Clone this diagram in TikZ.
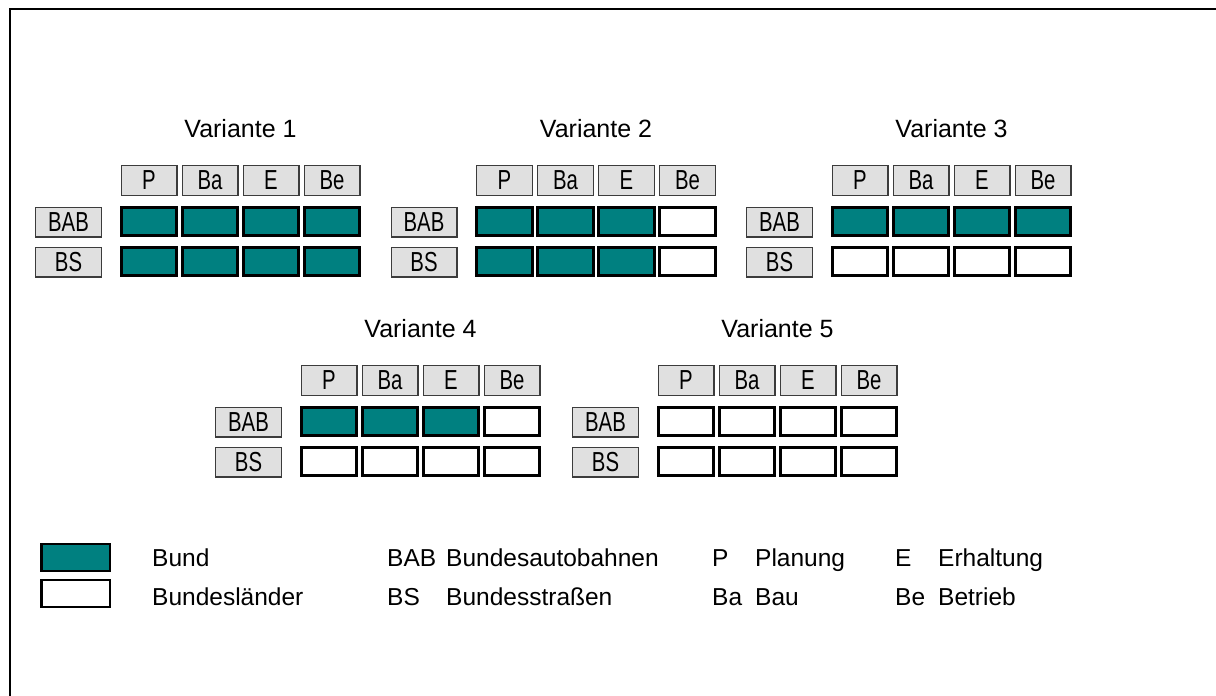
\documentclass[tikz,border=0pt]{standalone}
\usepackage{fontspec}
\setmainfont{Liberation Sans}
\newfontfamily\narrowfont[FakeStretch=0.74]{Liberation Sans}
\definecolor{tealfill}{RGB}{0,128,128}
\definecolor{hdrfill}{RGB}{224,224,224}
\definecolor{hdrline}{RGB}{60,60,60}
\tikzset{
  hdr/.style={draw=hdrline, line width=1.2pt, fill=hdrfill, minimum width=55.8pt,
    minimum height=29.8pt, inner sep=0pt, font=\narrowfont\fontsize{27.5}{27.5}\selectfont},
  lbl/.style={hdr, minimum width=65.8pt},
  cellbox/.style={draw=black, line width=3pt, minimum width=55.5pt, minimum height=28pt, inner sep=0pt},
  vtitle/.style={font=\fontsize{25}{25}\selectfont, inner sep=0pt},
  leg/.style={font=\fontsize{24.5}{24.5}\selectfont, inner sep=0pt, anchor=base west},
}
\newcommand\drawvariant[6]{%
  \begin{scope}[shift={(#2,#3)}]
    \node[vtitle, anchor=base] (v#1t) at (240.5,137) {Variante #4};
    \node[lbl] (v#1lA) at (68.5,222) {BAB};
    \node[lbl] (v#1lS) at (68.5,262) {BS};
    \foreach \i/\t in {1/P,2/Ba,3/E,4/Be} {
      \pgfmathsetmacro\cx{149+61*(\i-1)}
      \node[hdr] (v#1h\i) at (\cx,180.5) {\t};
      \ifnum\i>#5\relax\def\fa{white}\else\def\fa{tealfill}\fi
      \node[cellbox, fill=\fa] (v#1a\i) at (\cx,221.5) {};
      \ifnum\i>#6\relax\def\fb{white}\else\def\fb{tealfill}\fi
      \node[cellbox, fill=\fb] (v#1s\i) at (\cx,261.5) {};
    }
  \end{scope}}
\begin{document}
\begin{tikzpicture}[x=1pt,y=-1pt]
\useasboundingbox (0,0) rectangle (1216,696);
\clip (0,0) rectangle (1216,696);
\fill[white] (0,0) rectangle (1216,696);
\draw[line width=2pt] (10,9) rectangle (1240,720);

\drawvariant{1}{0}{0}{1}{4}{4}
\drawvariant{2}{355.5}{0}{2}{3}{3}
\drawvariant{3}{711}{0}{3}{4}{0}
\drawvariant{4}{180}{200}{4}{3}{0}
\drawvariant{5}{537}{200}{5}{0}{0}

% legend
\node[cellbox, line width=2.5pt, fill=tealfill, minimum width=68.5pt, minimum height=27pt] (lgT) at (75.5,557.5) {};
\node[cellbox, line width=2.5pt, fill=white, minimum width=68.5pt, minimum height=27pt] (lgW) at (75.5,593.5) {};
\node[leg] (lgBund) at (152,566) {Bund};
\node[leg] (lgLand) at (152,605) {Bundesländer};
\node[leg] (lgBAB) at (387,566) {BAB};
\node[leg] (lgBS) at (387,605) {BS};
\node[leg] (lgBABt) at (446,566) {Bundesautobahnen};
\node[leg] (lgBSt) at (446,605) {Bundesstraßen};
\node[leg] (lgP) at (712,566) {P};
\node[leg] (lgBa) at (712,605) {Ba};
\node[leg] (lgPt) at (755,566) {Planung};
\node[leg] (lgBat) at (755,605) {Bau};
\node[leg] (lgE) at (895,566) {E};
\node[leg] (lgBe) at (895,605) {Be};
\node[leg] (lgEt) at (938,566) {Erhaltung};
\node[leg] (lgBet) at (938,605) {Betrieb};
\end{tikzpicture}
\end{document}
